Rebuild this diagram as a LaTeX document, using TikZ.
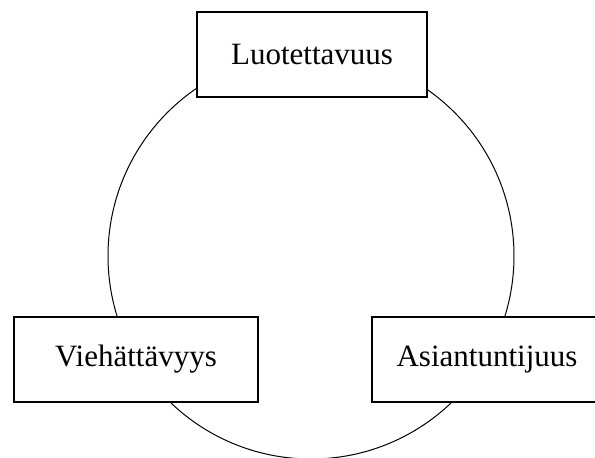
\documentclass[tikz,border=0pt]{standalone}
\usepackage{fontspec}
\setmainfont{Liberation Serif}
\begin{document}
\begin{tikzpicture}[x=1pt,y=-1pt,
  box/.style={draw=black,line width=2pt,fill=white,inner sep=0pt,minimum height=85pt,font=\fontsize{31}{36}\selectfont}]
\useasboundingbox (0,0) rectangle (595,458);
\node[circle,draw,line width=1pt,minimum size=406pt,inner sep=0pt] (c) at (311,256) {};
\node[box,minimum width=230pt] (top) at (312,54.5) {Luotettavuus};
\node[box,minimum width=244pt] (left) at (136,359.5) {Viehättävyys};
\node[box,minimum width=230pt] (right) at (487,359.5) {Asiantuntijuus};
\end{tikzpicture}
\end{document}
